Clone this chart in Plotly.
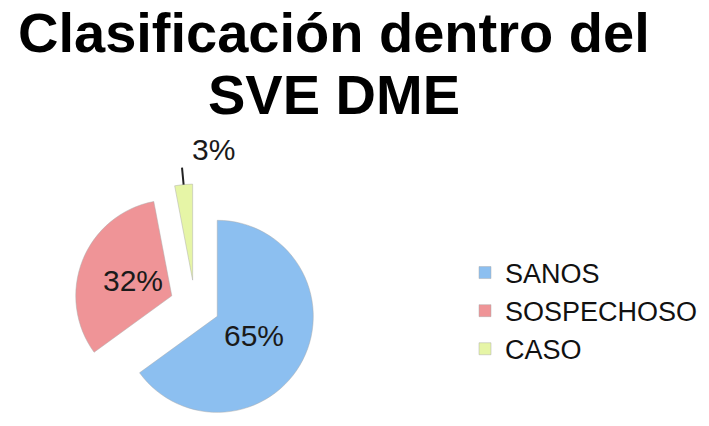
import math
import plotly.graph_objects as go

# Classification counts within the SVE DME surveillance system (percent)
categories = ["SANOS", "SOSPECHOSO", "CASO"]
values = [65, 32, 3]
colors = ["#8cbff0", "#ef9497", "#e6f5a6"]
label_inside = [True, True, False]

W, H = 709, 426
font_family = "Liberation Sans, Arial, sans-serif"

# Pie box (pixels): centre and half-size; every slice is pulled out by PULL * radius
CX, CY, HALF = 195, 305, 121
PULL = 0.26
R = HALF / (1 + PULL)

fig = go.Figure(
    go.Pie(
        labels=categories,
        values=values,
        sort=False,
        direction="clockwise",
        rotation=0,
        pull=[PULL] * len(values),
        marker=dict(colors=colors, line=dict(width=0.8, color="rgba(170,170,170,0.6)")),
        textinfo="none",
        domain=dict(x=[0, 2 * CX / W], y=[0, 2 * HALF / H]),
        hoverinfo="label+percent",
    )
)


def to_paper(px, py):
    return px / W, 1 - py / H


# Percentage labels placed along each slice's mid-angle
total = sum(values)
cum = 0
for name, v, inside in zip(categories, values, label_inside):
    mid = math.radians((cum + v / 2) / total * 360)
    cum += v
    dx, dy = math.sin(mid), -math.cos(mid)
    text = f"{v / total * 100:.0f}%"
    if inside:
        dist = PULL * R + 0.43 * R
        x, y = to_paper(CX + dist * dx, CY + dist * dy)
        fig.add_annotation(
            text=text, x=x, y=y, xref="paper", yref="paper",
            xanchor="center", yanchor="middle", showarrow=False,
            font=dict(family=font_family, size=30, color="#1a1a1a"),
        )
    else:
        d0 = PULL * R + R
        d1 = d0 + 17
        x0, y0 = to_paper(CX + d0 * dx, CY + d0 * dy)
        x1, y1 = to_paper(CX + d1 * dx, CY + d1 * dy)
        fig.add_shape(
            type="line", xref="paper", yref="paper",
            x0=x0, y0=y0, x1=x1, y1=y1,
            line=dict(color="#222222", width=2),
        )
        fig.add_annotation(
            text=text, x=x1 + 8 / W, y=y1, xref="paper", yref="paper",
            xanchor="left", yanchor="bottom", showarrow=False,
            font=dict(family=font_family, size=30, color="#1a1a1a"),
        )

# Two-line bold title
title_lines = ["Clasificación dentro del", "SVE DME"]
title_tops = [-1, 61]
for line, top in zip(title_lines, title_tops):
    fig.add_annotation(
        text=f"<b>{line}</b>",
        font=dict(family=font_family, size=56, color="#000000"),
        x=334 / W, xref="paper", xanchor="center",
        y=1 - top / H, yref="paper", yanchor="top",
        showarrow=False,
    )

fig.update_layout(
    width=W,
    height=H,
    margin=dict(l=0, r=0, t=0, b=0, autoexpand=False),
    paper_bgcolor="white",
    plot_bgcolor="white",
    legend=dict(
        x=465 / W,
        xanchor="left",
        y=1 - 311 / H,
        yanchor="middle",
        font=dict(family=font_family, size=27, color="#111111"),
        itemwidth=30,
    ),
    showlegend=True,
)

fig.write_html("out.html")
